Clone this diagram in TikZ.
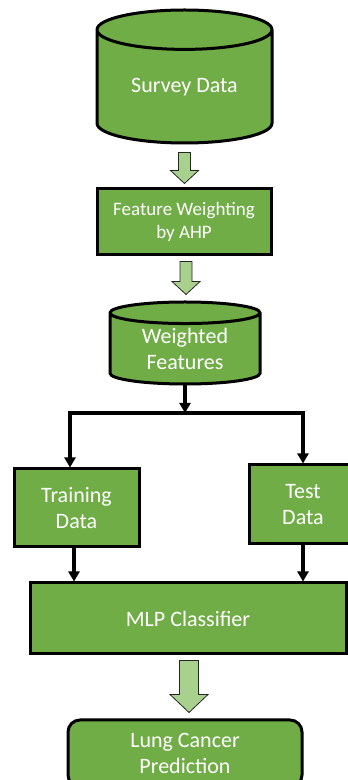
\documentclass[tikz,border=0pt]{standalone}
\usepackage{fontspec}
\setmainfont{Carlito}
\usetikzlibrary{arrows.meta,calc,positioning,shapes.geometric}
\definecolor{boxgreen}{HTML}{70AD47}
\definecolor{lightgreen}{HTML}{A9D18E}

% fat block arrow between two points: from, to, shaft half width, head half width, head length
\newcommand{\fatarrow}[5]{%
  \draw[fat] let \p1=(#1), \p2=(#2) in
    (\x1-#3,\y1) -- (\x1+#3,\y1) -- (\x1+#3,\y2+#5) -- (\x1+#4,\y2+#5)
    -- (\x1,\y2) -- (\x1-#4,\y2+#5) -- (\x1-#3,\y2+#5) -- cycle;}

\begin{document}
\begin{tikzpicture}[x=1pt,y=1pt,>={Triangle[length=10pt,width=11pt]}]
	\tikzstyle{stage}=[draw=black,fill=boxgreen,text=white,line width=3pt,align=center,inner sep=0pt,font=\fontsize{22}{26.5}\selectfont]
	\tikzstyle{store}=[stage,cylinder,shape border rotate=90,anchor=shape center,cylinder uses custom fill,cylinder body fill=boxgreen,cylinder end fill=lightgreen]
	\tikzstyle{flow}=[->,line width=3.5pt,line join=miter]
	\tikzstyle{fat}=[fill=lightgreen,draw=black!85,line width=0.8pt,line join=miter]
	
	\path[use as bounding box,clip] (0,0) rectangle (348,780);
	\fill[white] (0,0) rectangle (348,780);
	
	\node[store,minimum width=175pt,minimum height=133pt,aspect=0.37] (survey) at (184.5,703.5) {Survey Data};
	\node[stage,minimum width=174pt,minimum height=66pt,font=\fontsize{19}{23}\selectfont] (weighting) at (184,558) {Feature Weighting\\by AHP};
	\node[store,minimum width=150pt,minimum height=82pt,aspect=0.25] (weighted) at (185,437) {Weighted\\Features};
	\coordinate (split) at (185,367);
	\node[stage,minimum width=125pt,minimum height=78pt] (train) at (76.5,272) {Training\\Data};
	\node[stage,minimum width=108pt,minimum height=79pt] (test) at (303,275.5) {Test\\Data};
	\node[stage,minimum width=316pt,minimum height=71pt] (mlp) at (188,161.5) {MLP Classifier};
	\node[stage,minimum width=234pt,minimum height=67pt,rounded corners=12pt] (lung) at (185,26.5) {Lung Cancer\\Prediction};
	
	\fatarrow{[yshift=-8pt]survey.south}{[yshift=4pt]weighting.north}{6pt}{14pt}{13pt}
	\fatarrow{[xshift=2pt,yshift=-5pt]weighting.south}{[yshift=6pt]weighted.north}{6pt}{14pt}{13pt}
	\fatarrow{[xshift=1pt,yshift=-5pt]mlp.south}{[yshift=6pt]lung.north}{9.5pt}{19pt}{18pt}
	
	\draw[flow] (weighted.south) -- (split);
	\draw[flow] (split) -| ([xshift=-6.5pt]train.north);
	\draw[flow] (split) -| (test.north);
	\draw[flow] ([xshift=-2.5pt]train.south) -- ([xshift=-2.5pt]train.south |- mlp.north);
	\draw[flow] (test.south) -- (test.south |- mlp.north);
\end{tikzpicture}
\end{document}
